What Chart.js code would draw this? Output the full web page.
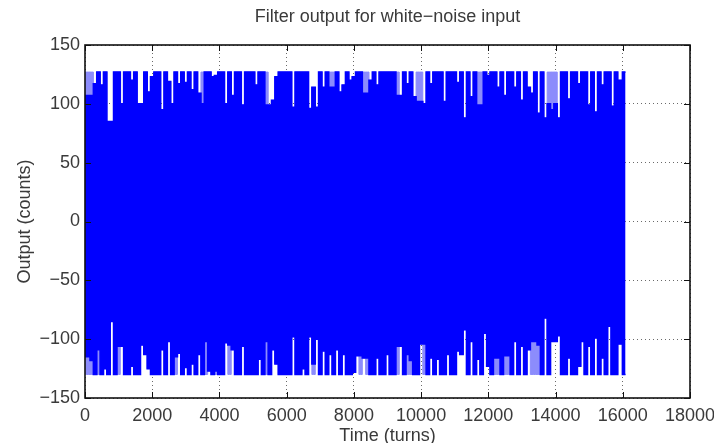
<!DOCTYPE html>
<html>
<head>
<meta charset="utf-8">
<script src="https://cdn.jsdelivr.net/npm/chart.js@4/dist/chart.umd.min.js"></script>
<style>
  html, body { margin: 0; padding: 0; background: #fff; }
  canvas { display: block; }
</style>
</head>
<body>
<canvas id="c" width="714" height="443"></canvas>
<script>
// Filter output envelope, one value per 100-turn bin (last bin closes the record).
const binTurns = 100;
const lastTurn = 16080;

// Upper edge of the densely covered band (counts)
const topInner = [
  107,107,107,117,127,116,127,85,85,127,
  127,100,127,127,120,127,100,100,127,110,
  123,127,127,95,127,119,100,127,117,127,
  118,127,112,127,109,100,127,127,123,124,
  127,127,100,127,107,127,127,99,127,127,
  127,116,127,127,99,99,103,123,127,127,
  127,127,97,127,127,127,127,96,114,97,
  127,114,127,114,114,127,110,116,127,120,
  123,127,127,109,109,120,127,116,127,127,
  127,127,127,107,107,127,117,127,106,102,
  102,100,127,117,127,127,127,102,127,127,
  127,118,127,88,127,106,127,99,99,127,
  124,127,127,114,127,107,127,127,114,127,
  103,127,114,109,127,92,127,88,100,95,
  100,88,127,127,104,127,127,117,127,127,
  99,127,93,127,116,127,127,98,127,120,
  127
];
// Upper edge reached by any sample (sparse peaks)
const topOuter = [
  127,127,127,117,127,116,127,85,85,127,
  127,100,127,127,120,127,100,100,127,110,
  123,127,127,95,127,119,100,127,117,127,
  118,127,112,127,109,127,127,127,123,124,
  127,127,100,127,107,127,127,99,127,127,
  127,116,127,127,127,99,103,123,127,127,
  127,127,97,127,127,127,127,96,114,97,
  127,114,127,127,127,127,110,116,127,120,
  123,127,127,127,127,120,127,116,127,127,
  127,127,127,127,107,127,117,127,106,127,
  127,100,127,117,127,127,127,102,127,127,
  127,118,127,88,127,106,127,127,127,127,
  124,127,127,114,127,107,127,127,114,127,
  103,127,114,109,127,92,127,88,127,127,
  127,88,127,127,104,127,127,117,127,127,
  99,127,93,127,116,127,127,98,127,120,
  127
];
// Lower edge of the densely covered band (counts)
const bottomInner = [
  -115,-115,-118,-130,-109,-130,-125,-130,-85,-130,
  -106,-106,-130,-130,-123,-130,-130,-105,-113,-125,
  -130,-130,-130,-109,-130,-102,-130,-115,-112,-130,
  -124,-130,-121,-130,-113,-130,-102,-127,-130,-127,
  -130,-130,-103,-105,-109,-130,-130,-106,-130,-130,
  -130,-130,-117,-130,-102,-130,-109,-121,-130,-130,
  -130,-130,-98,-130,-130,-125,-130,-98,-121,-100,
  -130,-110,-130,-113,-130,-109,-130,-113,-130,-130,
  -128,-114,-114,-116,-116,-130,-130,-116,-130,-130,
  -113,-130,-130,-106,-106,-130,-113,-118,-130,-130,
  -104,-104,-130,-116,-130,-117,-130,-130,-113,-130,
  -130,-110,-113,-92,-130,-102,-130,-117,-130,-95,
  -123,-130,-116,-116,-130,-114,-114,-130,-102,-130,
  -106,-130,-109,-102,-102,-105,-130,-82,-130,-102,
  -102,-97,-130,-130,-116,-130,-130,-123,-102,-130,
  -106,-130,-99,-130,-116,-130,-89,-130,-130,-104,
  -130
];
// Lower edge reached by any sample (sparse troughs)
const bottomOuter = [
  -130,-130,-130,-130,-130,-130,-125,-130,-85,-130,
  -130,-106,-130,-130,-123,-130,-130,-105,-113,-125,
  -130,-130,-130,-109,-130,-102,-130,-130,-112,-130,
  -124,-130,-121,-130,-113,-130,-130,-127,-130,-130,
  -130,-130,-103,-130,-109,-130,-130,-106,-130,-130,
  -130,-130,-117,-130,-130,-130,-109,-121,-130,-130,
  -130,-130,-98,-130,-130,-125,-130,-98,-130,-100,
  -130,-110,-130,-113,-130,-109,-130,-113,-130,-130,
  -128,-114,-130,-116,-130,-130,-130,-116,-130,-130,
  -113,-130,-130,-130,-106,-130,-130,-130,-130,-130,
  -104,-130,-130,-116,-130,-117,-130,-130,-113,-130,
  -130,-110,-113,-92,-130,-102,-130,-117,-130,-95,
  -123,-130,-130,-130,-130,-130,-130,-130,-102,-130,
  -106,-130,-109,-130,-130,-130,-130,-82,-130,-102,
  -102,-97,-130,-130,-116,-130,-130,-123,-102,-130,
  -106,-130,-99,-130,-116,-130,-89,-130,-130,-104,
  -130
];

// Axis ticks
const xTicks = [0, 2000, 4000, 6000, 8000, 10000, 12000, 14000, 16000, 18000];
const yTicks = [-150, -100, -50, 0, 50, 100, 150];

const titleText = 'Filter output for white\u2212noise input';
const xTitle = 'Time (turns)';
const yTitle = 'Output (counts)';

const FONT = "'Liberation Sans', Arial, Helvetica, sans-serif";
const TEXT = '#3a3a3a';
const BLUE = '#0000ff';
const LIGHT = 'rgb(140,140,252)';

function series(values) {
  return values.map((v, i) => ({ x: i === values.length - 1 ? lastTurn : i * binTurns, y: v }));
}
const minusSign = s => String(s).replace('-', '\u2212');

// White page, title centred over the plot box, frame and inward tick marks
const framePlugin = {
  id: 'frame',
  afterLayout(chart) {
    const t = chart.titleBlock;
    if (t) { t.left = chart.chartArea.left; t.right = chart.chartArea.right; }
  },
  beforeDraw(chart) {
    const { ctx } = chart;
    ctx.save();
    ctx.fillStyle = '#fff';
    ctx.fillRect(0, 0, chart.width, chart.height);
    ctx.restore();
  },
  afterDatasetsDraw(chart) {
    const { ctx, chartArea: a, scales: { x, y } } = chart;
    ctx.save();
    ctx.strokeStyle = '#111';
    ctx.lineWidth = 1;
    ctx.beginPath();
    xTicks.forEach(v => {
      const px = Math.round(x.getPixelForValue(v)) + 0.5;
      ctx.moveTo(px, a.bottom); ctx.lineTo(px, a.bottom - 6);
      ctx.moveTo(px, a.top); ctx.lineTo(px, a.top + 6);
    });
    yTicks.forEach(v => {
      const py = Math.round(y.getPixelForValue(v)) + 0.5;
      ctx.moveTo(a.left, py); ctx.lineTo(a.left + 6, py);
      ctx.moveTo(a.right, py); ctx.lineTo(a.right - 6, py);
    });
    ctx.stroke();
    ctx.lineWidth = 1.6;
    ctx.strokeRect(a.left, a.top, a.right - a.left, a.bottom - a.top);
    ctx.restore();
  }
};

const common = { pointRadius: 0, stepped: 'middle', tension: 0 };

new Chart(document.getElementById('c'), {
  type: 'line',
  data: {
    datasets: [
      { ...common, data: series(topInner), borderColor: BLUE, borderWidth: 1.6, backgroundColor: BLUE, fill: 1, order: 0 },
      { ...common, data: series(bottomInner), borderColor: BLUE, borderWidth: 1.6, fill: false, order: 0 },
      { ...common, data: series(topOuter), borderColor: LIGHT, borderWidth: 1, backgroundColor: LIGHT, fill: 3, order: 1 },
      { ...common, data: series(bottomOuter), borderColor: LIGHT, borderWidth: 1, fill: false, order: 1 }
    ]
  },
  options: {
    responsive: false,
    animation: false,
    events: [],
    layout: { padding: { left: 0, right: 24, top: 0, bottom: 0 } },
    plugins: {
      legend: { display: false },
      tooltip: { enabled: false },
      title: {
        display: true,
        text: titleText,
        color: TEXT,
        font: { family: FONT, size: 18, weight: 'normal', lineHeight: 1.2 },
        padding: { top: 6, bottom: 17.4 }
      }
    },
    scales: {
      x: {
        type: 'linear',
        min: 0, max: 18000,
        afterBuildTicks: s => { s.ticks = xTicks.map(v => ({ value: v })); },
        ticks: {
          color: TEXT, padding: 7, maxRotation: 0, autoSkip: false,
          font: { family: FONT, size: 18 },
          callback: v => String(v)
        },
        grid: { color: '#6a6a6a', lineWidth: 1, drawTicks: false },
        border: { display: false, dash: [1, 3] },
        title: {
          display: true, text: xTitle, color: TEXT,
          font: { family: FONT, size: 18, lineHeight: 1 },
          padding: { top: 0, bottom: -2 }
        },
        afterFit: s => { s.height = 45; s.paddingLeft = 0; s.paddingRight = 0; }
      },
      y: {
        type: 'linear',
        min: -150, max: 150,
        afterBuildTicks: s => { s.ticks = yTicks.map(v => ({ value: v })); },
        ticks: {
          color: TEXT, padding: 5, autoSkip: false,
          font: { family: FONT, size: 18 },
          callback: v => minusSign(v)
        },
        grid: { color: '#6a6a6a', lineWidth: 1, drawTicks: false },
        border: { display: false, dash: [1, 3] },
        title: {
          display: true, text: yTitle, color: TEXT,
          font: { family: FONT, size: 18, lineHeight: 1.2 },
          padding: { top: 14, bottom: 0 }
        },
        afterFit: s => { s.width = 85; s.paddingTop = 0; s.paddingBottom = 0; }
      }
    }
  },
  plugins: [framePlugin]
});
</script>
</body>
</html>
